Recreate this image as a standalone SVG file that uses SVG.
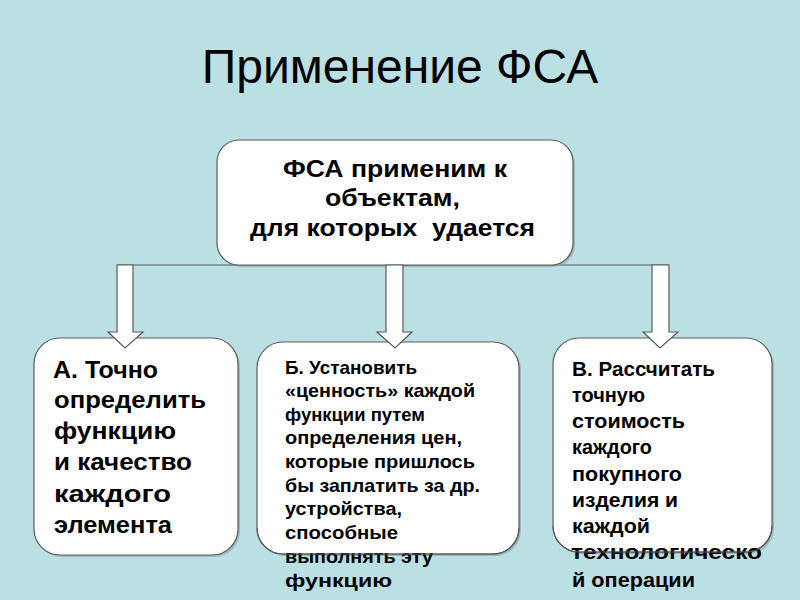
<svg xmlns="http://www.w3.org/2000/svg" width="800" height="600" viewBox="0 0 800 600">
<style>
.box{fill:#ffffff;stroke:#5a5a5a;stroke-width:1.2}
.edge{fill:none;stroke:#5a5a5a;stroke-width:1.2}
.shadow{fill:#8a9fa1;opacity:0.6}
.arrow{fill:#ffffff;stroke:#5a5a5a;stroke-width:1.2;stroke-linejoin:miter}
.t{font-family:"Liberation Sans",Arial,sans-serif;font-weight:bold;fill:#000}
.t tspan{}
.title{font-family:"Liberation Sans",Arial,sans-serif;font-size:48px;fill:#000}
</style>
<rect x="0" y="0" width="800" height="600" fill="#bbe0e3"/>
<text class="title" x="400" y="83" text-anchor="middle">Применение ФСА</text>

<g id="connectors">
<line x1="117" y1="265" x2="669" y2="265" stroke="#5a5a5a" stroke-width="1.2"/>
</g>

<g id="top">
<rect class="shadow" x="219" y="142" width="356" height="125" rx="22"/>
<rect class="box" x="217" y="140" width="356" height="125" rx="22"/>
<text class="t" font-size="24.5">
<tspan x="283" y="177" textLength="224" lengthAdjust="spacingAndGlyphs">ФСА применим к</tspan>
<tspan x="325" y="206" textLength="135" lengthAdjust="spacingAndGlyphs">объектам,</tspan>
<tspan x="250" y="236" textLength="285" lengthAdjust="spacingAndGlyphs" xml:space="preserve">для которых  удается</tspan>
</text>
</g>

<g id="boxA">
<rect class="shadow" x="36" y="340" width="204" height="217" rx="26"/>
<rect class="box" x="34" y="338" width="204" height="217" rx="26"/>
<text class="t" font-size="24">
<tspan x="53" y="378" textLength="105" lengthAdjust="spacingAndGlyphs">А. Точно</tspan>
<tspan x="54" y="408" textLength="152" lengthAdjust="spacingAndGlyphs">определить</tspan>
<tspan x="54" y="439" textLength="122" lengthAdjust="spacingAndGlyphs">функцию</tspan>
<tspan x="54" y="470" textLength="138" lengthAdjust="spacingAndGlyphs">и качество</tspan>
<tspan x="54" y="502" textLength="117" lengthAdjust="spacingAndGlyphs">каждого</tspan>
<tspan x="54" y="533" textLength="118" lengthAdjust="spacingAndGlyphs">элемента</tspan>
</text>
</g>

<g id="boxB">
<rect class="shadow" x="259" y="344" width="262" height="212" rx="26"/>
<rect class="box" x="257" y="342" width="262" height="212" rx="26"/>
<text class="t" font-size="19">
<tspan x="285" y="374" textLength="132" lengthAdjust="spacingAndGlyphs">Б. Установить</tspan>
<tspan x="285" y="397" textLength="190" lengthAdjust="spacingAndGlyphs">«ценность» каждой</tspan>
<tspan x="285" y="421" textLength="140" lengthAdjust="spacingAndGlyphs">функции путем</tspan>
<tspan x="285" y="444" textLength="177" lengthAdjust="spacingAndGlyphs">определения цен,</tspan>
<tspan x="285" y="468" textLength="190" lengthAdjust="spacingAndGlyphs">которые пришлось</tspan>
<tspan x="285" y="492" textLength="195" lengthAdjust="spacingAndGlyphs">бы заплатить за др.</tspan>
<tspan x="285" y="515" textLength="117" lengthAdjust="spacingAndGlyphs">устройства,</tspan>
<tspan x="285" y="539" textLength="113" lengthAdjust="spacingAndGlyphs">способные</tspan>
<tspan x="285" y="563" textLength="148" lengthAdjust="spacingAndGlyphs">выполнять эту</tspan>
<tspan x="285" y="587" textLength="107" lengthAdjust="spacingAndGlyphs">функцию</tspan>
</text>
<path class="edge" d="M257,528 A26,26 0 0 0 283,554 H493 A26,26 0 0 0 519,528"/>
</g>

<g id="boxC">
<rect class="shadow" x="555" y="340" width="219" height="214" rx="26"/>
<rect class="box" x="553" y="338" width="219" height="214" rx="26"/>
<text class="t" font-size="20">
<tspan x="572" y="376" textLength="143" lengthAdjust="spacingAndGlyphs">В. Рассчитать</tspan>
<tspan x="572" y="402" textLength="73" lengthAdjust="spacingAndGlyphs">точную</tspan>
<tspan x="572" y="428" textLength="113" lengthAdjust="spacingAndGlyphs">стоимость</tspan>
<tspan x="572" y="454" textLength="80" lengthAdjust="spacingAndGlyphs">каждого</tspan>
<tspan x="572" y="481" textLength="110" lengthAdjust="spacingAndGlyphs">покупного</tspan>
<tspan x="572" y="507" textLength="106" lengthAdjust="spacingAndGlyphs">изделия и</tspan>
<tspan x="572" y="533" textLength="78" lengthAdjust="spacingAndGlyphs">каждой</tspan>
<tspan x="571" y="559" textLength="191" lengthAdjust="spacingAndGlyphs">технологическо</tspan>
<tspan x="572" y="587" textLength="123" lengthAdjust="spacingAndGlyphs">й операции</tspan>
</text>
<path class="edge" d="M553,526 A26,26 0 0 0 579,552 H746 A26,26 0 0 0 772,526"/>
</g>

<g id="arrows">
<polygon class="arrow" points="117,265 133,265 133,332 143,332 125,348 108,332 117,332"/>
<polygon class="arrow" points="386,265 403,265 403,332 412,332 395,348 377,332 386,332"/>
<polygon class="arrow" points="652,265 669,265 669,332 678,332 660,348 643,332 652,332"/>
</g>
</svg>
